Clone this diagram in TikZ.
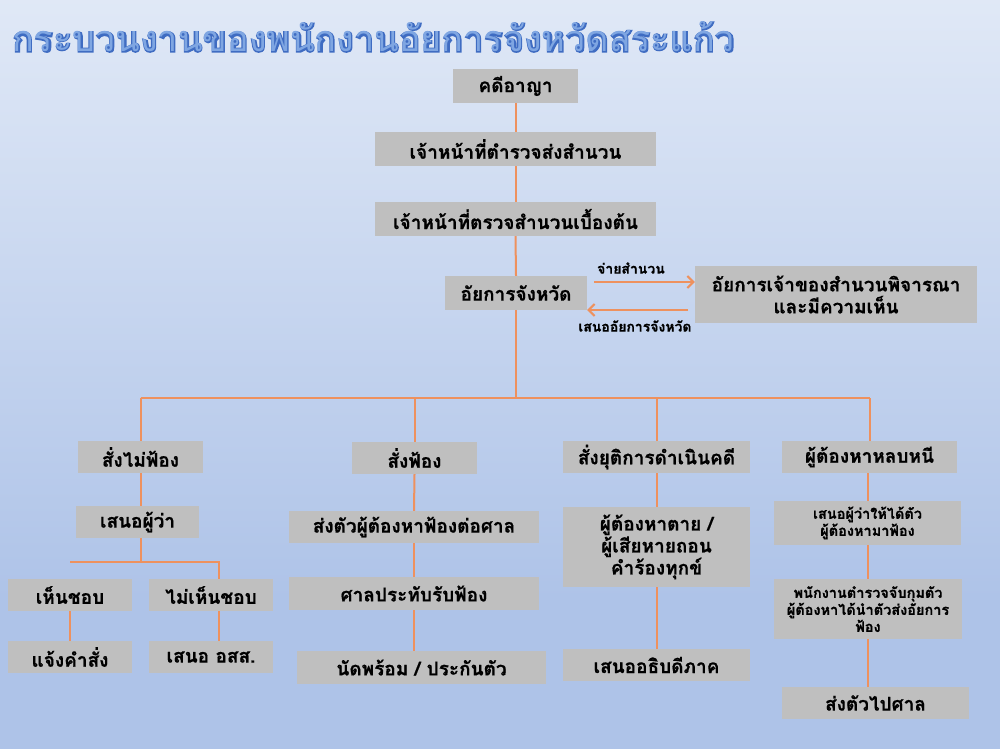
\documentclass[tikz,border=0pt]{standalone}
\usepackage{fontspec}
\setmainfont[Script=Thai,BoldFeatures={FakeBold=0.6}]{Loma}
\newfontfamily\titlefont[Script=Thai,BoldFeatures={FakeBold=4}]{Loma}
\usetikzlibrary{arrows.meta,calc}
\definecolor{boxgray}{HTML}{BFBFBF}
\definecolor{conn}{HTML}{EE915E}
\definecolor{titleblue}{HTML}{3F6CC2}
\definecolor{titlefill}{HTML}{7FA6E2}
\definecolor{bgtop}{HTML}{F8FAFD}
\definecolor{bgup}{HTML}{E6EDF8}
\definecolor{bgmid}{HTML}{AEC3E8}
\definecolor{bgbot}{HTML}{C5D4EF}
\pgfdeclareverticalshading{bgshade}{100bp}{color(0bp)=(bgbot); color(25bp)=(bgmid); color(35bp)=(bgmid); color(80bp)=(bgup); color(100bp)=(bgtop)}
\tikzset{
  box/.style={fill=boxgray, inner sep=0pt, align=center, font=\bfseries\fontsize{19}{22}\selectfont},
  smallbox/.style={box, font=\bfseries\fontsize{14.5}{17}\selectfont},
  link/.style={draw=conn, line width=2pt},
  flow/.style={draw=conn, line width=2.5pt, -{Straight Barb[length=6pt,width=12pt,line width=2pt]}},
  lbl/.style={inner sep=0pt, font=\bfseries\fontsize{14}{16}\selectfont},
  titletext/.style={anchor=west, inner sep=0pt},
}
\begin{document}
\begin{tikzpicture}[x=1pt,y=-1pt]
\useasboundingbox (0,0) rectangle (1000,748);
\shade[shading=bgshade] (0,0) rectangle (1000,748);
\node[titletext, text=titleblue, font=\titlefont\bfseries\fontsize{36}{40}\selectfont] (titleback) at (12,37) {กระบวนงานของพนักงานอัยการจังหวัดสระแก้ว};
\node[titletext, text=titlefill, font=\titlefont\fontsize{36}{40}\selectfont] (title) at (titleback.west) {กระบวนงานของพนักงานอัยการจังหวัดสระแก้ว};
% main column
\node[box, minimum width=125, minimum height=34] (a) at (515.5,86) {คดีอาญา};
\node[box, minimum width=281, minimum height=34] (b) at (515.5,149) {เจ้าหน้าที่ตำรวจส่งสำนวน};
\node[box, minimum width=281, minimum height=34] (c) at (515.5,219) {เจ้าหน้าที่ตรวจสำนวนเบื้องต้น};
\node[box, minimum width=142, minimum height=34] (d) at (516,293) {อัยการจังหวัด};
\node[box, minimum width=282, minimum height=57] (e) at (836,294.5) {อัยการเจ้าของสำนวนพิจารณา\\และมีความเห็น};
% second level
\node[box, minimum width=125, minimum height=32] (f) at (140.5,457) {สั่งไม่ฟ้อง};
\node[box, minimum width=125, minimum height=32] (g) at (414.5,458) {สั่งฟ้อง};
\node[box, minimum width=187, minimum height=32] (h) at (656.5,457) {สั่งยุติการดำเนินคดี};
\node[box, minimum width=175, minimum height=32] (i) at (869.5,457) {ผู้ต้องหาหลบหนี};
% left branch
\node[box, minimum width=123, minimum height=32] (j) at (137.5,522) {เสนอผู้ว่า};
\node[box, minimum width=124, minimum height=32] (k) at (70,595) {เห็นชอบ};
\node[box, minimum width=124, minimum height=32] (l) at (211,595) {ไม่เห็นชอบ};
\node[box, minimum width=124, minimum height=32] (m) at (70,657) {แจ้งคำสั่ง};
\node[box, minimum width=124, minimum height=32] (n) at (211,657) {เสนอ อสส.};
% prosecute branch
\node[box, minimum width=250, minimum height=32] (o) at (414,527) {ส่งตัวผู้ต้องหาฟ้องต่อศาล};
\node[box, minimum width=250, minimum height=33] (p) at (414,593.5) {ศาลประทับรับฟ้อง};
\node[box, minimum width=249, minimum height=33] (q) at (421.5,667.5) {นัดพร้อม / ประกันตัว};
% terminate branch
\node[box, minimum width=187, minimum height=80] (r) at (656.5,547) {ผู้ต้องหาตาย /\\ผู้เสียหายถอน\\คำร้องทุกข์};
\node[box, minimum width=187, minimum height=32] (s) at (656.5,665) {เสนออธิบดีภาค};
% fugitive branch
\node[smallbox, minimum width=187, minimum height=44] (t) at (867.5,523) {เสนอผู้ว่าให้ได้ตัว\\ผู้ต้องหามาฟ้อง};
\node[smallbox, minimum width=188, minimum height=60] (u) at (868,609) {พนักงานตำรวจจับกุมตัว\\ผู้ต้องหาได้นำตัวส่งอัยการ\\ฟ้อง};
\node[box, minimum width=187, minimum height=32] (v) at (875.5,703) {ส่งตัวไปศาล};
% coordinates
\coordinate (bus) at (516,398);
\coordinate (sub) at (141,562);
\coordinate (lx) at (219,595);
\coordinate (cx) at (868,600);
% connectors main
\draw[link] (a.south) -- (b.north);
\draw[link] (b.south) -- (c.north);
\draw[link] (c.south) -- (d.north);
\draw[link] (d.south) -- (bus);
\draw[link] (f.north |- bus) -- (i.north |- bus);
\draw[link] (f.north |- bus) -- (f.north);
\draw[link] (g.north |- bus) -- (g.north);
\draw[link] (h.north |- bus) -- (h.north);
\draw[link] (i.north |- bus) -- (i.north);
% left
\draw[link] (f.south) -- (f.south |- j.north);
\draw[link] (sub |- j.south) -- (sub);
\draw[link] (k.north |- sub) -- (lx |- sub) -- (lx |- l.north);
\draw[link] (k.south) -- (m.north);
\draw[link] (lx |- l.south) -- (lx |- n.north);
% middle
\draw[link] (g.south) -- (o.north);
\draw[link] (o.south) -- (p.north);
\draw[link] (p.south) -- (p.south |- q.north);
% terminate
\draw[link] (h.south) -- (h.south |- r.north);
\draw[link] (r.south) -- (s.north);
% fugitive
\draw[link] (cx |- i.south) -- (cx |- t.north);
\draw[link] (cx |- t.south) -- (cx |- u.north);
\draw[link] (cx |- u.south) -- (cx |- v.north);
% arrows between d and e
\coordinate (ar1s) at (594,282);
\coordinate (ar2s) at (688,310);
\draw[flow] (ar1s) -- (ar1s -| e.west);
\draw[flow] (ar2s) -- (ar2s -| d.east);
\node[lbl] (l1) at (631,268) {จ่ายสำนวน};
\node[lbl] (l2) at (635,326) {เสนออัยการจังหวัด};
\end{tikzpicture}
\end{document}
